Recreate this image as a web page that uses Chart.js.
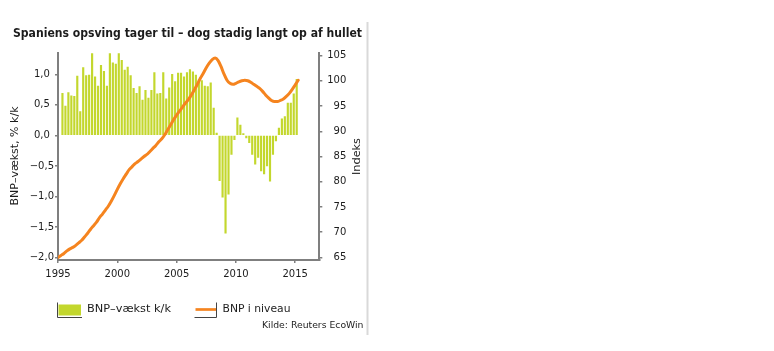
<!DOCTYPE html>
<html><head><meta charset="utf-8">
<script src="https://cdn.jsdelivr.net/npm/chart.js@4.4.1/dist/chart.umd.min.js"></script>
<style>html,body{margin:0;padding:0;background:#fff;}#wrap{position:relative;width:774px;height:351px;}</style>
</head><body><div id="wrap"><canvas id="c"></canvas></div>
<script>
// ---- data ----
const titleText = 'Spaniens opsving tager til \u2013 dog stadig langt op af hullet';
const leftAxisTitle = 'BNP\u2013v\u00e6kst, % k/k';
const rightAxisTitle = 'Indeks';
const seriesNames = ['BNP\u2013v\u00e6kst k/k', 'BNP i niveau'];
const sourceText = 'Kilde: Reuters EcoWin';
const xTickValues = [1995, 2000, 2005, 2010, 2015];
const leftTickValues = [-2.0, -1.5, -1.0, -0.5, 0.0, 0.5, 1.0];
const rightTickValues = [65, 70, 75, 80, 85, 90, 95, 100, 105];
// quarterly GDP growth q/q, 1995K2 .. 2015K1
const growthFirstQuarter = 1995.375;
const growthValues = [
  0.69, 0.48, 0.70, 0.65, 0.64, 0.97, 0.39, 1.11, 0.98, 0.99,
  1.34, 0.96, 0.81, 1.15, 1.05, 0.81, 1.34, 1.19, 1.17, 1.34,
  1.23, 1.07, 1.12, 0.98, 0.77, 0.69, 0.80, 0.58, 0.74, 0.61,
  0.74, 1.03, 0.68, 0.69, 1.03, 0.60, 0.78, 1.00, 0.88, 1.02,
  1.02, 0.96, 1.03, 1.08, 1.04, 0.99, 0.91, 0.90, 0.81, 0.80,
  0.86, 0.45, 0.04, -0.74, -1.01, -1.60, -0.96, -0.31, -0.07, 0.29,
  0.17, 0.03, -0.04, -0.12, -0.31, -0.47, -0.36, -0.58, -0.63, -0.50,
  -0.75, -0.31, -0.09, 0.12, 0.27, 0.31, 0.53, 0.53, 0.68, 0.92
];
// GDP level index, 1995K1 .. 2015K2
const levelFirstQuarter = 1995.0;
const levelValues = [
  65.0, 65.4, 65.8, 66.3, 66.7, 67.0, 67.4, 67.9, 68.4, 69.1,
  69.8, 70.6, 71.3, 72.0, 72.9, 73.6, 74.4, 75.2, 76.2, 77.3,
  78.5, 79.6, 80.6, 81.5, 82.4, 83.0, 83.6, 84.0, 84.5, 85.0,
  85.4, 86.0, 86.6, 87.2, 87.9, 88.5, 89.3, 90.3, 91.3, 92.3,
  93.2, 94.0, 94.8, 95.6, 96.3, 97.2, 98.2, 99.3, 100.5, 101.5,
  102.6, 103.5, 104.2, 104.5, 104.0, 102.8, 101.3, 100.1, 99.5, 99.3,
  99.5, 99.8, 100.0, 100.1, 100.0, 99.7, 99.3, 98.9, 98.5, 97.9,
  97.2, 96.6, 96.1, 95.9, 95.9, 96.1, 96.4, 96.9, 97.5, 98.3, 99.2, 100.1
];

const barColor = '#c3d72d';
const lineColor = '#f5841f';
const axisColor = '#7f7f7f';
const textColor = '#1c1c1c';

const growthPoints = growthValues.map((v, i) => ({x: growthFirstQuarter + i * 0.25, y: v}));
const levelPoints = levelValues.map((v, i) => ({x: levelFirstQuarter + i * 0.25, y: v}));

Chart.defaults.font.family = '"DejaVu Sans", Verdana, sans-serif';
Chart.defaults.font.size = 10;
Chart.defaults.color = textColor;

function fitText(ctx, text, x, y, font, width, align) {
  ctx.save();
  ctx.font = font;
  const w = ctx.measureText(text).width;
  const s = width ? width / w : 1;
  ctx.translate(x, y);
  ctx.scale(s, 1);
  ctx.textAlign = align;
  ctx.textBaseline = 'middle';
  ctx.fillStyle = textColor;
  ctx.fillText(text, 0, 0);
  ctx.restore();
}

const decor = {
  id: 'decor',
  afterDraw(chart) {
    const ctx = chart.ctx;
    ctx.save();
    ctx.strokeStyle = '#d9d9d9';
    ctx.lineWidth = 2;
    ctx.beginPath(); ctx.moveTo(367.5, 22); ctx.lineTo(367.5, 335); ctx.stroke();
    fitText(ctx, titleText, 13, 34.3, 'bold 12px "DejaVu Sans"', 349, 'left');
    ctx.save(); ctx.translate(15, 156); ctx.rotate(-Math.PI / 2);
    fitText(ctx, leftAxisTitle, 0, 0, '10px "DejaVu Sans"', 99, 'center');
    ctx.restore();
    ctx.save(); ctx.translate(357.5, 156.5); ctx.rotate(-Math.PI / 2);
    fitText(ctx, rightAxisTitle, 0, 0, '11px "DejaVu Sans"', 37, 'center');
    ctx.restore();
    ctx.fillStyle = barColor;
    ctx.fillRect(58.5, 304.5, 22.5, 11);
    ctx.strokeStyle = '#444';
    ctx.lineWidth = 1;
    ctx.beginPath(); ctx.moveTo(57.5, 302.5); ctx.lineTo(57.5, 317.5); ctx.lineTo(82, 317.5); ctx.stroke();
    fitText(ctx, seriesNames[0], 87, 309.5, '11px "DejaVu Sans"', 84, 'left');
    ctx.strokeStyle = lineColor; ctx.lineWidth = 2.7;
    ctx.beginPath(); ctx.moveTo(195.5, 309.5); ctx.lineTo(216, 309.5); ctx.stroke();
    ctx.strokeStyle = '#444'; ctx.lineWidth = 1;
    ctx.beginPath(); ctx.moveTo(194.5, 317.5); ctx.lineTo(216.5, 317.5); ctx.lineTo(216.5, 302.5); ctx.stroke();
    fitText(ctx, seriesNames[1], 222.5, 309.5, '11px "DejaVu Sans"', 68, 'left');
    fitText(ctx, sourceText, 262, 325.3, '9px "DejaVu Sans"', 101.5, 'left');
    ctx.restore();
  }
};

new Chart(document.getElementById('c'), {
  data: {
    datasets: [
      {
        type: 'line', label: seriesNames[1], data: levelPoints, yAxisID: 'y2', xAxisID: 'x',
        borderColor: lineColor, borderWidth: 3, pointRadius: 0, cubicInterpolationMode: 'monotone',
        borderCapStyle: 'round', borderJoinStyle: 'round', order: 1
      },
      {
        type: 'bar', label: seriesNames[0], data: growthPoints, yAxisID: 'y', xAxisID: 'x',
        backgroundColor: barColor, borderWidth: 0, barThickness: 1.5, order: 2
      }
    ]
  },
  options: {
    responsive: true, maintainAspectRatio: false, animation: false, devicePixelRatio: 1,
    layout: { padding: { left: 0, top: 53, right: 427.7, bottom: 66 } },
    plugins: { legend: { display: false }, tooltip: { enabled: false }, title: { display: false } },
    scales: {
      x: {
        type: 'linear', position: 'bottom', min: 1995, max: 2017.03, offset: false,
        afterBuildTicks: s => { s.ticks = xTickValues.map(v => ({value: v})); },
        afterFit: s => { s.height = 25; },
        ticks: { padding: 5, maxRotation: 0, autoSkip: false, callback: v => String(v), color: textColor },
        grid: { offset: false, drawOnChartArea: false, drawTicks: true, tickLength: 3, color: axisColor, lineWidth: 1.5 },
        border: { display: true, color: axisColor, width: 2 }
      },
      y: {
        type: 'linear', position: 'left', min: -2.04, max: 1.35,
        afterBuildTicks: s => { s.ticks = leftTickValues.map(v => ({value: v})); },
        afterFit: s => { s.width = 58; },
        ticks: { padding: 1, crossAlign: 'center', color: textColor,
          callback: v => Number(v).toFixed(1).replace('.', ',').replace('-', '\u2212') },
        grid: { drawOnChartArea: false, drawTicks: true, tickLength: 3, color: axisColor, lineWidth: 1.5 },
        border: { display: true, color: axisColor, width: 2 }
      },
      y2: {
        type: 'linear', position: 'right', min: 64.5, max: 105.5,
        afterBuildTicks: s => { s.ticks = rightTickValues.map(v => ({value: v})); },
        afterFit: s => { s.width = 27; },
        ticks: { padding: 3, crossAlign: 'far', color: textColor, callback: v => String(v) },
        grid: { drawOnChartArea: false, drawTicks: true, tickLength: 3, color: axisColor, lineWidth: 1.5 },
        border: { display: true, color: axisColor, width: 2 }
      }
    }
  },
  plugins: [decor]
});
</script>
</body></html>
